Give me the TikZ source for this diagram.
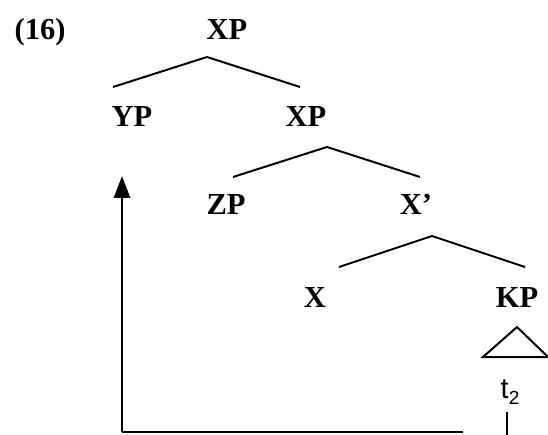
\documentclass[tikz,border=0pt]{standalone}
\usepackage{fontspec}
\setmainfont{Liberation Serif}
\newfontfamily\tracefont{Liberation Sans}
\usetikzlibrary{arrows.meta}
\begin{document}
\begin{tikzpicture}[x=1pt,y=-1pt,
  lbl/.style={font=\fontsize{30.5}{32}\selectfont\bfseries, inner sep=0pt, anchor=base},
  br/.style={line width=2pt},
  mv/.style={line width=2.8pt}]
\useasboundingbox (0,0) rectangle (548,435);
\node[lbl] (num) at (40,40) {(16)};
\node[lbl] (xp1) at (227,40) {XP};
\node[lbl] (yp) at (132,127) {YP};
\node[lbl] (xp2) at (306,127) {XP};
\node[lbl] (zp) at (226,215) {ZP};
\node[lbl] (xbar) at (416,215) {X’};
\node[lbl] (x) at (315,307) {X};
\node[lbl] (kp) at (517,307) {KP};
\node[inner sep=0pt, anchor=base, font=\tracefont\fontsize{29}{30}\selectfont] (t) at (510,398) {t\raisebox{-6pt}{\fontsize{19}{19}\selectfont 2}};
\coordinate (a1) at (207,57);
\coordinate (a2) at (327,147);
\coordinate (a3) at (432,236);
\draw[br] (113,87) -- (a1) -- (300,87);
\draw[br] (233,177) -- (a2) -- (420,177);
\draw[br] (339,267) -- (a3) -- (525,267);
\draw[br] (517,327) -- (483,357) -- (548,357) -- cycle;
\coordinate (c1) at (507,412);
\coordinate (c2) at (507,435);
\draw[br] (c1) -- (c2);
\coordinate (h1) at (463,432);
\coordinate (corner) at (122,432);
\coordinate (tip) at (122,176);
\draw[mv] (h1) -- (corner);
\draw[mv, -{Triangle[length=22pt,width=16pt]}] (corner) -- (tip);
\end{tikzpicture}
\end{document}
